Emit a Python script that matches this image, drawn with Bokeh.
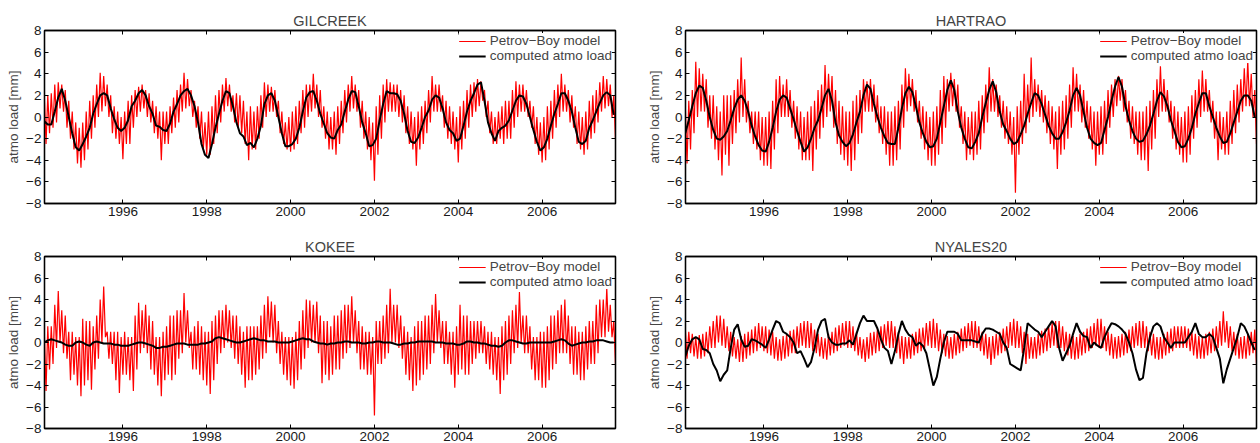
import numpy as np
from bokeh.plotting import figure
from bokeh.layouts import column, row
from bokeh.models import FixedTicker, LinearAxis, Range1d, Legend
from bokeh.embed import file_html
from bokeh.resources import INLINE

# ---------------- data (monthly readings, Feb 1994 .. Sep 2007) ----------------
stations = ["GILCREEK", "HARTRAO", "KOKEE", "NYALES20"]
year_ticks = [1996, 1998, 2000, 2002, 2004, 2006]
y_ticks = [-8, -6, -4, -2, 0, 2, 4, 6, 8]
y_tick_labels = ["\u22128", "\u22126", "\u22124", "\u22122", "0", "2", "4", "6", "8"]
first_year = 1994
first_month = 2

gil_black = [
    -0.4, -0.7, -0.7, 0.5, 1.8, 2.6, 1.5, 0.0, -1.5, -2.8, -3.1,
    -2.5, -1.8, -1.0, 0.3, 1.2, 2.0, 2.2, 2.0, 0.8, -0.2, -1.0, -1.3,
    -1.0, -0.3, 1.0, 1.5, 2.2, 2.5, 2.0, 1.0, 0.3, -0.8, -0.9, -1.2,
    -1.3, -0.6, 0.5, 1.2, 2.0, 2.4, 2.6, 2.0, 1.0, -0.5, -2.5, -3.5,
    -3.8, -2.5, -1.0, 0.3, 1.5, 2.4, 2.2, 1.0, -0.5, -1.5, -1.8, -2.6,
    -2.4, -2.8, -2.0, -0.8, 1.2, 2.0, 2.2, 1.5, 0.0, -1.5, -2.7, -2.7,
    -2.5, -2.0, -1.0, 0.5, 1.8, 2.3, 2.4, 1.5, 0.3, -0.6, -1.5, -1.9,
    -2.0, -1.2, -0.7, 0.5, 1.6, 2.4, 2.3, 1.0, -0.5, -1.5, -2.7, -2.6,
    -2.0, -0.3, 1.2, 2.4, 2.2, 2.2, 2.1, 1.5, 0.3, -1.3, -2.3, -2.4,
    -1.9, -1.0, 0.0, 0.6, 1.6, 2.0, 1.8, 0.8, -0.5, -1.2, -1.5, -2.2,
    -2.0, -0.8, 0.5, 1.5, 2.2, 3.0, 3.2, 1.5, -0.5, -1.5, -2.2, -1.3,
    -1.0, -0.8, -0.3, 0.6, 1.5, 2.0, 1.9, 1.2, 0.0, -1.2, -2.3, -3.1,
    -2.8, -2.0, -0.8, 0.3, 1.2, 2.2, 2.2, 1.5, 0.5, -1.0, -2.3, -2.5,
    -2.2, -1.0, -0.3, 0.5, 1.3, 2.0, 2.3, 2.0, 0.2,
]
gil_red_hi = [
    2.0, 2.0, 2.2, 3.0, 3.2, 3.0, 2.5, 1.5, 0.5, -0.5, -1.0,
    -0.5, 0.5, 1.5, 2.0, 3.0, 4.1, 3.8, 3.0, 2.0, 1.0, 0.5, 0.0,
    0.5, 1.5, 2.0, 2.5, 2.8, 3.0, 2.5, 2.2, 1.5, 1.0, 0.5, 0.5,
    0.5, 1.0, 1.8, 2.5, 3.0, 4.1, 3.5, 2.5, 1.5, 1.0, 0.5, -0.5,
    0.5, 1.0, 2.0, 2.5, 3.0, 3.6, 3.0, 2.0, 2.2, 2.0, 1.5, 0.5,
    1.0, 0.5, 1.0, 2.0, 3.2, 3.0, 2.8, 2.5, 1.5, 0.5, -0.5, 0.0,
    0.5, 1.0, 1.5, 2.5, 3.0, 3.0, 4.0, 3.0, 2.5, 1.0, 0.5, 0.0,
    0.5, 1.0, 1.5, 2.5, 3.0, 3.8, 3.0, 2.5, 1.5, 0.5, 0.0, -0.5,
    1.0, 2.0, 3.0, 3.5, 3.2, 3.0, 3.0, 2.5, 2.0, 1.0, 0.5, 0.0,
    0.5, 1.0, 1.5, 2.5, 3.8, 3.0, 3.0, 2.0, 1.5, 1.0, 0.5, 0.0,
    1.0, 1.5, 2.5, 3.0, 3.2, 3.5, 3.3, 2.5, 1.5, 0.5, 0.0, 0.5,
    1.0, 1.5, 1.5, 2.5, 3.3, 3.0, 3.0, 2.5, 1.5, 1.0, 0.0, -0.5,
    0.0, 1.0, 1.5, 2.5, 3.0, 4.0, 3.0, 2.5, 2.0, 1.0, 0.5, 0.0,
    0.5, 1.5, 2.0, 2.5, 3.2, 3.8, 3.5, 3.0, 2.0,
]
gil_red_lo = [
    -2.5, -1.5, -1.0, -0.5, 0.8, 0.5, -1.0, -2.0, -3.0, -4.3, -4.7,
    -4.0, -3.0, -2.0, -1.0, 0.0, 0.5, 1.0, 0.0, -1.5, -2.0, -2.5, -3.9,
    -2.5, -2.5, -1.0, 0.0, 0.5, 0.8, 0.0, -0.5, -1.5, -2.0, -4.0, -2.5,
    -2.5, -1.5, -1.0, -0.5, 0.5, 0.8, 1.0, 0.0, -1.0, -2.0, -3.0, -3.5,
    -3.5, -2.5, -1.5, -0.5, 0.5, 1.0, 0.5, -0.5, -1.0, -1.5, -2.5, -4.0,
    -3.0, -3.0, -2.0, -1.0, 0.0, 0.5, 0.5, 0.0, -1.5, -2.5, -3.0, -3.2,
    -3.0, -2.5, -1.5, -1.0, 0.0, 0.5, 0.8, 0.0, -1.0, -2.0, -3.0, -3.0,
    -3.5, -2.5, -1.5, -0.5, 0.5, 0.8, 0.5, -1.0, -2.0, -3.0, -4.0, -5.9,
    -3.5, -2.0, -0.5, 0.5, 0.5, 0.5, 0.0, -0.5, -1.5, -2.5, -3.0, -4.5,
    -3.0, -2.5, -1.5, -0.5, 0.5, 0.5, 0.5, -1.0, -2.0, -2.5, -3.0, -4.2,
    -3.0, -2.0, -1.0, 0.0, 0.5, 1.0, 1.5, 0.0, -1.5, -2.5, -2.5, -2.0,
    -2.5, -2.0, -2.0, -1.0, 0.0, 0.5, 0.5, 0.0, -1.0, -2.5, -3.5, -4.2,
    -4.0, -3.0, -2.0, -1.0, 0.0, 0.5, 0.5, -0.5, -1.0, -2.5, -3.0, -3.5,
    -3.0, -2.0, -1.5, -0.5, 0.5, 0.8, 1.0, 0.0, -2.0,
]

har_black = [
    -1.5, -0.3, 1.0, 2.2, 2.9, 2.7, 1.5, 0.0, -1.2, -2.0, -2.1,
    -1.8, -1.3, -0.3, 0.8, 1.6, 2.0, 1.5, 0.5, -0.8, -1.8, -2.6, -3.1,
    -3.2, -2.3, -1.0, 0.5, 1.6, 2.0, 1.8, 0.8, -0.2, -1.3, -2.3, -3.2,
    -2.8, -2.0, -1.0, -0.3, 0.8, 2.0, 2.6, 1.5, -0.5, -1.7, -2.3, -2.7,
    -2.4, -1.6, -0.5, 0.5, 2.0, 3.0, 2.6, 1.2, 0.0, -1.0, -1.8, -2.4,
    -2.5, -2.5, -1.0, 0.8, 2.2, 2.8, 2.3, 1.0, -0.5, -1.5, -2.3, -2.8,
    -2.7, -2.0, -0.5, 1.0, 2.5, 3.4, 2.5, 0.5, -1.0, -2.0, -2.8, -2.9,
    -2.3, -1.5, 0.0, 1.3, 2.5, 3.3, 2.3, 0.5, -0.7, -1.3, -2.0, -2.5,
    -2.3, -1.6, -0.8, 0.3, 1.3, 2.2, 2.0, 1.2, 0.2, -0.8, -1.5, -2.0,
    -2.0, -1.4, -0.5, 0.6, 2.0, 2.7, 2.0, 0.5, -1.0, -2.0, -2.4, -2.6,
    -2.4, -1.2, 0.0, 1.5, 2.8, 3.7, 2.8, 1.0, -0.3, -1.3, -2.0, -2.3,
    -2.2, -1.6, -0.8, 0.3, 1.5, 2.3, 1.9, 1.0, -0.3, -1.3, -2.3, -2.8,
    -2.7, -2.0, -1.0, 0.3, 1.3, 2.2, 2.2, 1.0, 0.0, -1.0, -1.8, -2.4,
    -2.3, -1.5, -0.5, 0.5, 1.5, 2.0, 2.0, 1.5, 0.0,
]
har_red_hi = [
    1.0, 1.5, 2.5, 5.1, 4.5, 4.0, 3.5, 2.0, 2.0, 1.0, 0.5,
    2.0, 2.0, 2.0, 2.5, 3.5, 5.5, 3.5, 1.5, 0.5, 0.5, 0.5, 0.0,
    0.0, 0.5, 1.5, 3.5, 3.8, 3.0, 3.5, 2.5, 1.5, 1.0, 0.5, 0.0,
    0.5, 1.0, 1.5, 2.5, 3.0, 4.8, 4.0, 3.8, 2.5, 1.5, 1.0, 0.5,
    0.5, 1.5, 2.0, 2.5, 3.5, 3.3, 3.5, 3.0, 2.0, 1.0, 1.0, 0.5,
    0.5, 1.0, 1.5, 3.0, 4.5, 4.0, 3.5, 2.5, 1.5, 1.0, 0.5, 0.0,
    0.5, 1.0, 2.5, 3.8, 3.5, 4.1, 3.5, 3.0, 1.0, 0.5, 0.0, 0.5,
    0.5, 1.5, 2.0, 3.0, 4.6, 3.5, 3.0, 2.0, 1.5, 1.0, 0.5, 0.0,
    1.0, 1.5, 4.0, 3.0, 5.5, 3.5, 3.0, 2.5, 2.0, 1.5, 1.0, 0.5,
    1.0, 1.5, 2.0, 3.0, 4.6, 4.0, 3.0, 2.5, 1.5, 1.0, 0.5, 0.5,
    1.0, 1.5, 2.5, 3.0, 3.5, 3.8, 3.5, 2.5, 1.5, 1.0, 0.5, 0.5,
    0.5, 1.0, 1.5, 2.5, 3.5, 4.7, 3.5, 2.5, 1.5, 1.0, 0.5, 0.0,
    0.5, 1.0, 2.0, 2.5, 3.5, 4.3, 3.5, 2.5, 1.5, 0.5, 0.5, 0.0,
    0.5, 1.5, 2.5, 3.0, 3.5, 4.5, 5.2, 4.0, 2.5,
]
har_red_lo = [
    -4.3, -3.0, -1.5, 0.0, 0.5, 0.5, -1.0, -2.0, -3.0, -4.0, -5.4,
    -3.5, -4.5, -2.5, -1.5, -0.5, 0.0, -0.5, -1.5, -2.5, -3.0, -4.0, -4.5,
    -4.5, -4.8, -3.0, -1.5, 0.0, 0.0, 0.0, -1.0, -2.0, -3.0, -4.0, -4.0,
    -4.0, -5.0, -3.0, -2.0, -1.0, 0.0, 0.5, -1.0, -2.5, -3.5, -4.0, -4.5,
    -5.0, -4.0, -2.5, -1.5, 0.5, 0.5, 0.5, -0.5, -1.5, -2.5, -3.5, -4.5,
    -4.5, -4.0, -3.0, -1.0, 0.5, 1.0, 0.5, -0.5, -2.0, -3.0, -4.0, -4.5,
    -4.5, -3.5, -2.5, -1.0, 0.5, 1.0, 0.5, -1.0, -2.5, -4.0, -3.5, -4.0,
    -3.5, -3.0, -1.5, -0.5, 0.5, 0.5, 0.0, -1.0, -2.0, -2.5, -3.5, -7.0,
    -3.5, -2.5, -1.5, -0.5, 0.0, 0.5, 0.0, -0.5, -1.5, -2.5, -3.0, -4.8,
    -3.5, -3.0, -2.0, -1.0, 0.5, 0.5, -0.5, -1.0, -2.0, -3.0, -4.5, -3.5,
    -3.5, -2.5, -1.0, 0.0, 1.0, 1.5, 0.5, -0.5, -2.0, -2.5, -3.5, -4.0,
    -4.0, -5.0, -3.0, -2.0, 0.0, 0.5, 0.5, -0.5, -2.0, -3.0, -3.5, -4.2,
    -4.2, -3.5, -2.0, -1.0, 0.0, 0.5, 0.5, -0.5, -2.0, -4.0, -3.0, -3.5,
    -3.5, -2.5, -1.5, -0.5, 0.5, 1.0, 1.0, 0.0, -2.5,
]

kok_black = [
    0.0, 0.2, 0.3, 0.2, 0.1, 0.0, -0.2, -0.3, -0.3, 0.0, 0.1,
    0.0, -0.2, -0.3, 0.0, 0.1, 0.0, -0.1, -0.1, -0.1, -0.2, -0.2, -0.3,
    -0.3, -0.3, -0.2, -0.1, 0.0, 0.0, -0.1, -0.2, -0.3, -0.5, -0.5, -0.4,
    -0.4, -0.3, -0.2, -0.1, -0.1, -0.1, -0.2, -0.2, -0.2, -0.2, -0.1, -0.1,
    0.0, 0.1, 0.4, 0.5, 0.4, 0.3, 0.2, 0.1, 0.0, 0.0, 0.1, 0.2,
    0.3, 0.4, 0.3, 0.2, 0.2, 0.1, 0.1, 0.1, 0.0, 0.0, 0.0, 0.0,
    0.1, 0.2, 0.3, 0.4, 0.3, 0.3, 0.1, 0.0, -0.1, -0.1, -0.2, -0.1,
    -0.1, 0.0, 0.0, 0.1, 0.1, 0.0, 0.0, 0.0, -0.1, -0.1, 0.0, 0.0,
    0.1, 0.1, 0.0, 0.0, 0.0, -0.1, -0.2, -0.2, -0.1, -0.1, 0.0, 0.0,
    0.1, 0.1, 0.1, 0.1, 0.1, 0.0, 0.0, 0.0, -0.1, -0.1, -0.1, -0.2,
    -0.2, -0.1, 0.1, 0.1, 0.0, 0.0, -0.1, -0.1, -0.2, -0.3, -0.3, -0.4,
    -0.3, 0.0, 0.2, 0.2, 0.1, 0.0, -0.1, -0.1, 0.0, 0.0, 0.0, 0.0,
    0.0, 0.0, 0.0, 0.1, 0.2, 0.3, 0.2, -0.1, -0.3, -0.2, -0.1, 0.0,
    0.0, 0.1, 0.1, 0.2, 0.2, 0.2, 0.1, 0.0, 0.0,
]
kok_red_hi = [
    1.0, 1.5, 1.5, 3.5, 4.8, 3.0, 2.5, 1.0, 1.0, 0.5, 0.5,
    2.2, 2.0, 2.0, 1.5, 2.5, 4.0, 5.2, 1.0, 1.0, 1.0, 1.0, 0.5,
    1.0, 0.5, 0.5, 2.5, 3.7, 3.0, 3.5, 2.5, 2.0, 0.5, 0.5, 1.0,
    1.5, 2.5, 2.5, 3.0, 3.0, 4.6, 3.0, 1.0, 1.5, 2.0, 1.5, 1.0,
    1.0, 2.0, 2.5, 3.0, 3.0, 3.5, 3.0, 2.5, 2.5, 1.5, 1.0, 1.5,
    1.5, 1.5, 1.5, 2.5, 3.5, 4.3, 3.8, 3.5, 2.0, 1.0, 0.5, 0.5,
    0.5, 1.0, 2.0, 3.0, 4.0, 3.9, 3.5, 3.8, 2.5, 2.0, 2.0, 1.5,
    2.5, 2.5, 3.0, 3.5, 3.5, 4.3, 3.0, 2.0, 1.5, 1.0, 1.0, 0.5,
    2.0, 2.0, 2.5, 3.5, 5.0, 3.5, 3.5, 2.5, 1.5, 1.0, 0.5, 1.5,
    2.0, 2.0, 2.5, 2.5, 3.5, 4.5, 3.0, 2.0, 2.0, 1.0, 1.0, 1.5,
    3.5, 2.5, 2.5, 2.0, 2.0, 2.0, 2.0, 1.5, 1.0, 1.0, 0.5, 0.5,
    1.5, 2.0, 2.5, 3.0, 3.5, 4.7, 2.5, 2.5, 1.5, 0.5, 0.5, 1.0,
    1.0, 1.5, 2.5, 2.5, 3.0, 3.5, 4.0, 2.5, 1.5, 1.5, 1.0, 1.0,
    1.5, 2.0, 2.0, 3.5, 4.0, 4.0, 5.1, 3.5, 2.0,
]
kok_red_lo = [
    -4.5, -2.5, -2.0, -0.5, 0.0, -1.0, -1.5, -3.5, -3.0, -4.0, -5.0,
    -4.0, -3.5, -4.4, -2.5, -1.5, 0.0, 0.5, -1.5, -2.0, -3.5, -4.7, -3.0,
    -3.0, -3.5, -4.5, -2.5, -1.0, -0.5, -1.0, -2.5, -3.0, -4.0, -5.0, -3.5,
    -3.0, -3.5, -3.0, -1.5, -1.0, 0.0, -0.5, -2.5, -2.5, -3.0, -3.5, -4.0,
    -4.8, -3.5, -2.0, -1.0, -0.5, 0.0, -0.5, -1.5, -2.0, -3.0, -4.2, -3.5,
    -3.5, -3.0, -2.5, -1.5, -1.0, 0.5, 0.0, -1.0, -2.0, -3.0, -3.5, -4.0,
    -4.3, -3.5, -2.5, -1.5, -0.5, 0.0, 0.0, -1.0, -3.8, -3.0, -3.5, -3.0,
    -2.5, -2.5, -1.5, -1.0, -0.5, 0.0, -1.0, -2.5, -2.5, -3.0, -3.0, -6.8,
    -2.0, -2.0, -1.5, -1.0, 0.0, 0.0, -0.5, -1.5, -3.0, -3.5, -4.5, -4.0,
    -3.5, -3.0, -2.5, -2.0, -1.0, 0.0, -0.5, -2.0, -2.0, -3.0, -4.2, -3.0,
    -2.5, -3.0, -3.0, -2.0, -1.5, -1.0, -1.0, -2.0, -2.5, -3.0, -3.5, -4.8,
    -3.5, -3.0, -2.0, -1.0, -0.5, 0.0, -1.0, -1.0, -2.5, -3.5, -3.5, -4.2,
    -4.2, -3.5, -2.5, -2.0, -1.0, -1.0, -1.0, -2.0, -3.0, -3.0, -3.5, -3.5,
    -2.5, -2.0, -2.0, -1.0, 0.5, 0.5, 1.0, 0.5, -2.0,
]

nya_black = [
    -1.3, -0.3, 0.3, 0.5, 0.3, -0.6, -0.7, -1.0, -2.0, -2.6, -3.6,
    -3.0, -2.6, -0.5, 1.2, 1.7, 0.3, -0.4, -0.3, 0.3, 0.2, 0.0, -0.2,
    -0.5, 0.3, 1.2, 2.0, 1.8, 1.0, 0.8, 0.5, 0.0, -1.0, -0.8, -1.5,
    -2.3, -1.8, -0.5, 1.2, 2.0, 2.2, 0.5, 0.0, -0.2, -0.2, -0.1, -0.1,
    0.2, -0.2, 0.8, 1.8, 2.5, 2.0, 2.0, 2.0, 1.3, 0.3, -0.5, -0.8,
    -2.0, -0.8, 0.8, 2.0, 1.2, 0.7, 0.5, -0.3, 0.0, -0.3, -1.0, -2.5,
    -4.0, -3.2, -1.5, 0.0, 1.0, 1.0, 1.0, 0.8, 0.2, 0.2, 0.2, 0.2,
    0.1, 0.0, 0.8, 1.3, 1.3, 1.2, 1.0, 0.8, 0.0, -0.5, -2.0, -2.2,
    -2.4, -2.6, -0.5, 1.8, 1.5, 1.2, 1.0, 0.5, 1.0, 1.5, 2.0, 1.5,
    -0.5, -1.7, -1.0, -0.3, 0.8, 1.8, 1.0, 0.6, 0.5, -0.5, 0.0, -0.3,
    -0.5, 0.5, 1.2, 1.8, 1.7, 1.5, 1.2, 0.8, 0.0, -1.0, -2.5, -3.5,
    -3.3, -1.0, 0.5, 1.5, 1.8, 1.5, 0.5, 0.0, -0.5, 0.0, 0.0, 0.0,
    0.0, 0.5, 1.0, 1.8, 0.8, 0.5, 0.5, 0.8, 0.5, -0.5, -1.5, -3.8,
    -2.5, -1.5, -0.5, 0.5, 1.8, 1.5, 0.8, 0.0, -0.7,
]
nya_red_hi = [
    1.3, 1.0, 0.8, 0.5, 0.7, 0.8, 1.0, 1.5, 2.0, 2.5, 2.5,
    2.2, 1.5, 1.0, 0.5, 0.3, 0.6, 0.8, 1.0, 1.2, 1.5, 1.8, 1.5,
    1.5, 1.2, 1.0, 0.5, 0.3, 0.6, 0.8, 1.1, 1.2, 1.5, 1.8, 2.0,
    2.0, 1.8, 1.2, 0.8, 0.5, 0.4, 0.8, 1.0, 1.4, 1.6, 1.8, 2.0,
    2.0, 1.5, 1.0, 0.5, 0.3, 0.5, 0.9, 1.0, 1.3, 1.5, 1.7, 2.0,
    2.0, 1.5, 1.0, 0.6, 0.5, 0.5, 0.8, 1.0, 1.3, 1.4, 1.8, 2.0,
    2.2, 1.8, 1.2, 0.8, 0.6, 0.5, 0.8, 1.0, 1.3, 1.5, 1.8, 2.0,
    2.0, 1.5, 1.0, 0.8, 0.5, 0.6, 0.8, 1.0, 1.3, 1.5, 1.9, 2.2,
    2.0, 1.5, 1.0, 0.8, 0.5, 0.5, 0.8, 1.1, 1.3, 1.5, 1.8, 2.0,
    2.0, 1.5, 1.0, 0.8, 0.6, 0.5, 0.8, 1.0, 1.3, 1.5, 1.8, 2.2,
    2.2, 1.5, 1.0, 0.8, 0.5, 0.6, 0.8, 1.0, 1.2, 1.5, 1.8, 2.0,
    2.0, 1.5, 1.0, 0.8, 0.5, 0.5, 0.8, 1.0, 1.3, 1.5, 1.5, 1.5,
    1.5, 1.3, 1.0, 0.8, 0.6, 0.5, 0.8, 1.0, 1.3, 1.5, 2.0, 2.9,
    2.0, 1.5, 1.0, 0.8, 0.5, 0.6, 0.8, 1.0, 1.2,
]
nya_red_lo = [
    -1.5, -1.0, -1.3, -1.5, -1.5, -1.3, -1.0, -0.5, -0.5, 0.0, -0.3,
    -0.5, -0.8, -1.3, -1.5, -1.8, -1.8, -1.5, -1.2, -1.0, -0.8, -0.5, -0.8,
    -1.0, -1.2, -1.5, -1.7, -1.7, -1.5, -1.3, -1.0, -1.0, -0.5, -0.3, -0.5,
    -0.5, -0.8, -1.0, -1.3, -1.5, -1.6, -1.2, -1.0, -0.8, -0.5, -0.3, -0.5,
    -0.5, -0.8, -1.2, -1.5, -1.8, -1.5, -1.2, -1.0, -0.8, -0.5, -0.3, -0.5,
    -0.5, -1.0, -1.5, -2.0, -1.5, -1.5, -1.2, -1.0, -0.8, -0.5, -0.3, -0.5,
    -0.5, -0.8, -1.0, -1.3, -1.5, -1.5, -1.2, -1.0, -0.8, -0.5, -0.3, -0.5,
    -0.5, -0.8, -1.2, -1.5, -2.1, -1.5, -1.2, -1.0, -0.8, -0.5, -0.3, -0.5,
    -0.5, -1.0, -2.0, -1.5, -1.5, -1.5, -1.2, -1.0, -0.8, -0.5, -0.3, -0.5,
    -0.5, -0.8, -1.2, -1.5, -1.6, -1.5, -1.2, -1.0, -0.8, -0.5, -0.3, -0.5,
    -0.5, -0.8, -1.2, -1.5, -1.5, -1.4, -1.2, -1.0, -0.8, -0.5, -0.3, -0.5,
    -0.5, -0.8, -1.2, -1.5, -1.6, -1.5, -1.2, -1.0, -0.8, -0.5, -0.5, -0.5,
    -0.5, -0.8, -1.2, -1.5, -1.5, -1.5, -1.2, -1.0, -0.8, -0.5, -0.3, 0.0,
    -0.5, -0.8, -1.2, -1.5, -1.5, -1.5, -1.2, -1.0, -2.0,
]

blacks = [gil_black, har_black, kok_black, nya_black]
reds_hi = [gil_red_hi, har_red_hi, kok_red_hi, nya_red_hi]
reds_lo = [gil_red_lo, har_red_lo, kok_red_lo, nya_red_lo]

FONT = "Liberation Sans"


def month_times(n):
    k = np.arange(n)
    return first_year + (k + first_month - 0.5) / 12.0


def make_panel(idx):
    left_col = idx % 2 == 0
    top_row = idx < 2
    p = figure(
        width=630,
        height=225 if top_row else 218,
        x_range=Range1d(1994.13, 2007.75),
        y_range=Range1d(-8, 8),
        output_backend="svg",
        toolbar_location=None,
        min_border_left=44 if left_col else 55,
        min_border_right=15 if left_col else 4,
        min_border_top=30 if top_row else 31,
        min_border_bottom=22 if top_row else 14,
        x_axis_type=None,
        y_axis_type=None,
        background_fill_color="white",
        border_fill_color="white",
    )
    p.title.text = stations[idx]
    p.title.align = "center"
    p.title.text_font = FONT
    p.title.text_font_size = "14.5px"
    p.title.text_font_style = "normal"
    p.title.standoff = 4

    ylabels = {t: l for t, l in zip(y_ticks, y_tick_labels)}

    def style_axis(ax, show_labels):
        ax.major_tick_in = 4
        ax.major_tick_out = 0
        ax.minor_tick_line_color = None
        ax.axis_line_color = "black"
        ax.axis_line_width = 1.3
        ax.major_tick_line_color = "black"
        ax.major_tick_line_width = 1
        if show_labels:
            ax.major_label_text_font = FONT
            ax.major_label_text_font_size = "13.5px"
            ax.major_label_text_color = "#1a1a1a"
            ax.major_label_standoff = 3
        else:
            ax.major_label_text_font_size = "0px"
            ax.major_label_standoff = 0

    xb = LinearAxis(ticker=FixedTicker(ticks=year_ticks),
                    major_label_overrides={y: str(y) for y in year_ticks})
    style_axis(xb, True)
    p.add_layout(xb, "below")
    yl = LinearAxis(ticker=FixedTicker(ticks=y_ticks), major_label_overrides=ylabels,
                    axis_label="atmo load [mm]")
    style_axis(yl, True)
    yl.axis_label_text_font = FONT
    yl.axis_label_text_font_size = "13.5px"
    yl.axis_label_text_font_style = "normal"
    yl.axis_label_standoff = 2
    p.add_layout(yl, "left")
    xt = LinearAxis(ticker=FixedTicker(ticks=year_ticks))
    style_axis(xt, False)
    p.add_layout(xt, "above")
    yr = LinearAxis(ticker=FixedTicker(ticks=y_ticks))
    style_axis(yr, False)
    p.add_layout(yr, "right")

    p.xgrid.ticker = FixedTicker(ticks=year_ticks)
    p.ygrid.ticker = FixedTicker(ticks=y_ticks)
    for g in (p.xgrid, p.ygrid):
        g.grid_line_color = "#9a9a9a"
        g.grid_line_dash = "1 3"
        g.grid_line_width = 1

    p.outline_line_color = "black"
    p.outline_line_width = 1.3

    hi = np.asarray(reds_hi[idx], dtype=float)
    lo = np.asarray(reds_lo[idx], dtype=float)
    n = min(len(hi), len(lo))
    t = month_times(n)
    xs = np.empty(2 * n)
    ys = np.empty(2 * n)
    xs[0::2] = t
    xs[1::2] = t + 1.0 / 24.0
    ys[0::2] = hi[:n]
    ys[1::2] = lo[:n]
    r_red = p.line(xs, ys, line_color="#ff0000", line_width=1.2)

    b = np.asarray(blacks[idx], dtype=float)
    r_blk = p.line(month_times(len(b)), b, line_color="black", line_width=2)

    leg = Legend(items=[("Petrov\u2212Boy model", [r_red]), ("computed atmo load", [r_blk])],
                 location="top_right")
    leg.label_text_font = FONT
    leg.label_text_font_size = "13.5px"
    leg.margin = 3
    leg.padding = 2
    leg.spacing = 0
    leg.glyph_width = 27
    leg.glyph_height = 14
    leg.label_height = 14
    leg.label_standoff = 4
    leg.border_line_color = None
    leg.background_fill_color = "white"
    leg.background_fill_alpha = 1.0
    p.add_layout(leg)
    return p


panels = [make_panel(i) for i in range(4)]
layout = column(row(panels[0], panels[1]), row(panels[2], panels[3]))

open("out.html", "w").write(file_html(layout, INLINE))
